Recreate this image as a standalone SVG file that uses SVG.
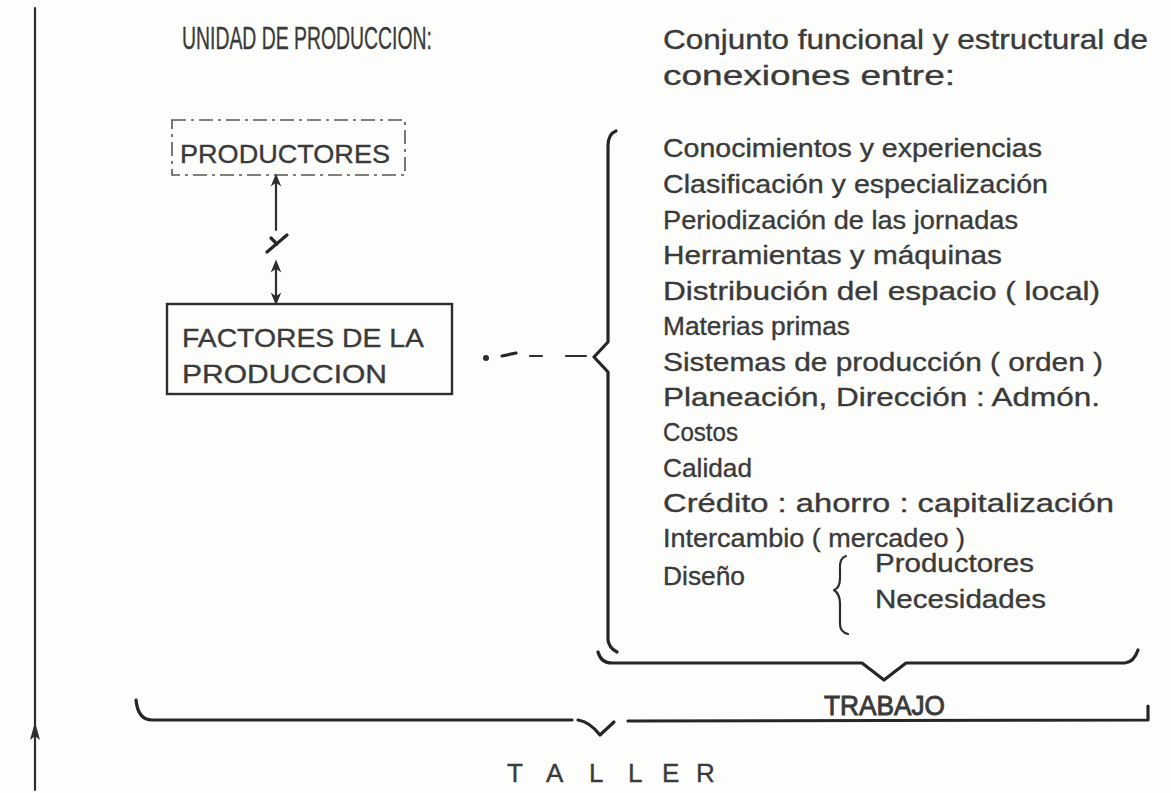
<svg xmlns="http://www.w3.org/2000/svg" width="1171" height="793" viewBox="0 0 1171 793">
<defs>
<style>
.t{font-family:"Liberation Sans","DejaVu Sans",Arial,sans-serif;fill:#3a3a3a;stroke:#3a3a3a;stroke-width:0.35px;font-size:26px}
.tt{font-family:"Liberation Sans","DejaVu Sans",Arial,sans-serif;fill:#3a3a3a;stroke:#3a3a3a;stroke-width:0.35px;font-size:28px}
.cap{font-size:31px}
.ln{fill:none;stroke:#2e2e2e;stroke-width:2.2;stroke-linecap:round;stroke-linejoin:round}
.hv{fill:none;stroke:#262626;stroke-width:3.2;stroke-linecap:round;stroke-linejoin:round}
</style>
<marker id="ah" viewBox="0 0 10 10" refX="5" refY="5" markerWidth="6" markerHeight="6" orient="auto-start-reverse">
<path d="M0,1 L10,5 L0,9 L3,5 Z" fill="#2e2e2e"/>
</marker>
</defs>
<rect width="1171" height="793" fill="#fdfdfb"/>

<g id="title">
<text class="tt cap" x="182" y="49" textLength="250" lengthAdjust="spacingAndGlyphs">UNIDAD DE PRODUCCION:</text>
<text class="tt" x="663" y="49" textLength="485" lengthAdjust="spacingAndGlyphs">Conjunto funcional y estructural de</text>
<text class="tt" x="663" y="85" textLength="292" lengthAdjust="spacingAndGlyphs">conexiones entre:</text>
</g>

<g id="productores">
<rect x="172" y="120" width="233" height="55" fill="none" stroke="#555" stroke-width="1.6" stroke-dasharray="14 5 3 5"/>
<text class="t" x="180" y="163" textLength="210" lengthAdjust="spacingAndGlyphs">PRODUCTORES</text>
</g>

<g id="factores">
<rect x="167" y="304" width="285" height="90" fill="none" stroke="#2e2e2e" stroke-width="2.4"/>
<text class="t" x="182" y="347" textLength="242" lengthAdjust="spacingAndGlyphs">FACTORES DE LA</text>
<text class="t" x="182" y="383" textLength="205" lengthAdjust="spacingAndGlyphs">PRODUCCION</text>
</g>

<g id="lista">
<text class="t" x="663" y="157" textLength="379" lengthAdjust="spacingAndGlyphs">Conocimientos y experiencias</text>
<text class="t" x="663" y="193" textLength="385" lengthAdjust="spacingAndGlyphs">Clasificación y especialización</text>
<text class="t" x="663" y="229" textLength="355" lengthAdjust="spacingAndGlyphs">Periodización de las jornadas</text>
<text class="t" x="663" y="264" textLength="339" lengthAdjust="spacingAndGlyphs">Herramientas y máquinas</text>
<text class="t" x="663" y="300" textLength="437" lengthAdjust="spacingAndGlyphs">Distribución del espacio ( local)</text>
<text class="t" x="663" y="335" textLength="187" lengthAdjust="spacingAndGlyphs">Materias primas</text>
<text class="t" x="663" y="371" textLength="440" lengthAdjust="spacingAndGlyphs">Sistemas de producción ( orden )</text>
<text class="t" x="663" y="406" textLength="437" lengthAdjust="spacingAndGlyphs">Planeación, Dirección : Admón.</text>
<text class="t" x="663" y="441" textLength="75" lengthAdjust="spacingAndGlyphs">Costos</text>
<text class="t" x="663" y="477" textLength="89" lengthAdjust="spacingAndGlyphs">Calidad</text>
<text class="t" x="663" y="512" textLength="451" lengthAdjust="spacingAndGlyphs">Crédito : ahorro : capitalización</text>
<text class="t" x="663" y="547" textLength="302" lengthAdjust="spacingAndGlyphs">Intercambio ( mercadeo )</text>
<text class="t" x="663" y="585" textLength="82" lengthAdjust="spacingAndGlyphs">Diseño</text>
<text class="t" x="875" y="572" textLength="159" lengthAdjust="spacingAndGlyphs">Productores</text>
<text class="t" x="875" y="608" textLength="171" lengthAdjust="spacingAndGlyphs">Necesidades</text>
</g>

<g id="trabajo">
<text class="t" x="824" y="715" textLength="121" lengthAdjust="spacingAndGlyphs" style="font-size:28px;stroke-width:0.9px">TRABAJO</text>
</g>

<g id="taller">
<text class="t" x="507 546 589 628 662 696" y="782">TALLER</text>
</g>

<g id="connectors">
<path class="ln" d="M35,8 L35,790"/>
<path d="M35,722 L30,740 L35,736 L40,740 Z" fill="#2e2e2e"/>
<path class="ln" d="M276,230 L276,180" marker-end="url(#ah)"/>
<path class="hv" d="M267,252 L287,235 M271,238 L277,244"/>
<path class="ln" d="M276,266 L276,299" marker-start="url(#ah)" marker-end="url(#ah)"/>
<circle cx="486" cy="358" r="3" fill="#2e2e2e"/>
<path class="hv" d="M502,356 L516,353"/>
<path class="ln" d="M530,356 L542,356 M566,356 L586,356"/>
<path class="hv" d="M616,131 Q608,134 608,146 L608,342 L594,357 L608,372 L608,640 Q609,648 617,652"/>
<path class="ln" d="M846,556 Q839,558 840,570 L840,578 Q840,588 834,590 Q840,594 840,604 L840,624 Q840,632 848,634"/>
<path class="hv" d="M598,652 Q601,663 612,663 L862,663 L884,680 L906,663 L1125,663 Q1134,662 1138,650"/>
<path class="hv" d="M136,700 Q138,720 152,720 L572,720"/>
<path class="hv" d="M578,720 Q590,722 600,735 L614,722"/>
<path class="hv" d="M628,721 L1148,720 L1148,706"/>
</g>
</svg>
